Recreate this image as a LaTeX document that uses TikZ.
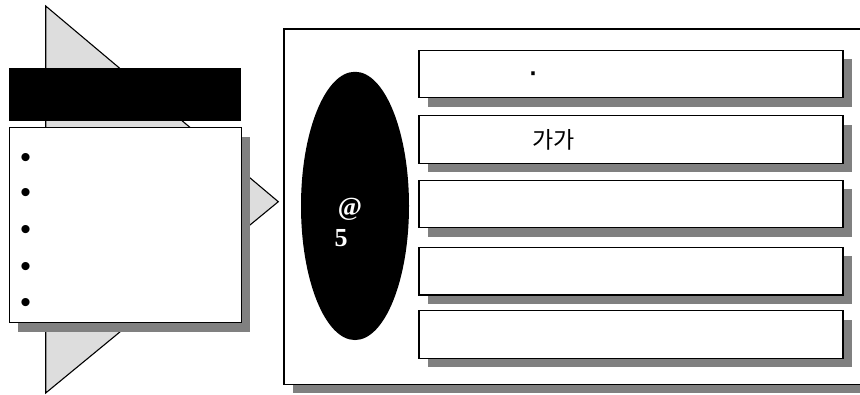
\documentclass[tikz,border=0pt]{standalone}
\usepackage{fontspec}
\setmainfont{Liberation Serif}
\newfontfamily\krfont{Noto Sans CJK KR}
\newfontfamily\arialfont{Liberation Sans}
\usetikzlibrary{shapes.geometric,shadows}

\definecolor{arrowgray}{HTML}{DDDDDD}
\definecolor{shadowgray}{HTML}{808080}

\tikzset{
  outline/.style={draw=black, line width=1.1pt},
  shadowed/.style={drop shadow={shadow xshift=9pt, shadow yshift=-9pt, opacity=1, fill=shadowgray}},
  itembox/.style={outline, fill=white, shadowed, rectangle, inner sep=0pt,
                  minimum width=424pt, minimum height=47.5pt},
  bulletmark/.style={inner sep=0pt, font=\arialfont\fontsize{30}{30}\selectfont},
  boxtext/.style={inner sep=0pt, font=\krfont\fontsize{23}{23}\selectfont},
  coretext/.style={inner sep=0pt, text=white, font=\bfseries\fontsize{26}{26}\selectfont}
}

\begin{document}
\begin{tikzpicture}[x=1pt, y=-1pt]
  \useasboundingbox (0,0) rectangle (860,394);
  \clip (0,0) rectangle (860,394);

  % big grey arrowhead behind the left panel
  \draw[outline, fill=arrowgray, line join=miter] (45.7,6) -- (278.3,201.7) -- (45.7,393) -- cycle;

  % black title bar
  \node[fill=black, rectangle, inner sep=0pt, minimum width=232pt, minimum height=52.4pt]
    (title) at (125.3,94.5) {};

  % bullet list panel
  \node[outline, fill=white, shadowed, rectangle, inner sep=0pt,
        minimum width=232pt, minimum height=195pt] (list) at (125.3,225.2) {};
  \foreach \y [count=\i] in {160.9,195.3,232.3,269.3,305.9}
    \node[bulletmark] (bul\i) at (25.7,\y) {•};

  % right frame
  \node[outline, fill=white, shadowed, rectangle, inner sep=0pt,
        minimum width=590pt, minimum height=355.5pt] (frame) at (579,206.7) {};

  % black ellipse with its label
  \node[ellipse, fill=black, inner sep=0pt, minimum width=108pt, minimum height=268.3pt]
    (core) at (355,205.9) {};
  \node[coretext] (coreat) at (350,209.5) {@};
  \node[coretext] (corenum) at (341.2,238) {5};

  % stacked item boxes
  \foreach \y [count=\i] in {73.85,139.5,203.8,271.2,334.3}
    \node[itembox] (item\i) at (631,\y) {};

  \node[boxtext, font=\arialfont\fontsize{36}{36}\selectfont] (item1text) at (533,78) {·};
  \node[boxtext] (item2text) at (553.5,140) {가가};
\end{tikzpicture}
\end{document}
